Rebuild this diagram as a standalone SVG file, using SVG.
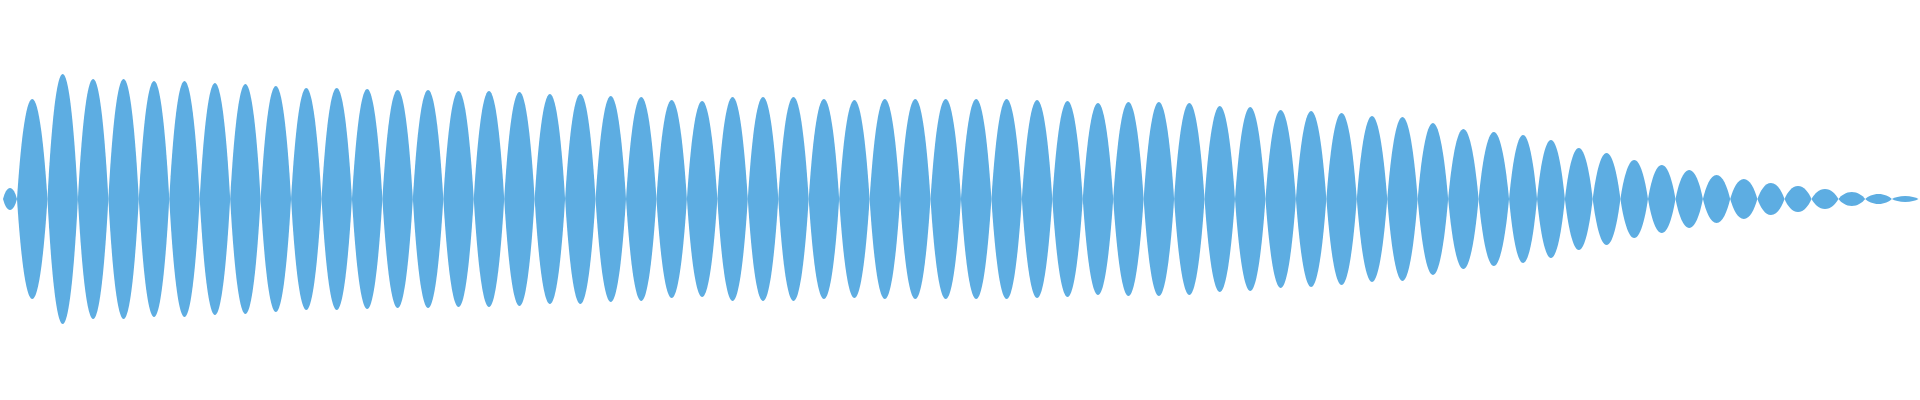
<svg xmlns="http://www.w3.org/2000/svg" width="1920" height="400" viewBox="0 0 1920 400">
<defs>
<style>.l{fill:#5dade2}</style>
<path id="lobe" d="M0,0 C0.11,-0.52 0.28,-1 0.5,-1 C0.72,-1 0.89,-0.52 1,0 C0.89,0.52 0.72,1 0.5,1 C0.28,1 0.11,0.52 0,0 Z"/>
</defs>
<rect width="1920" height="400" fill="#ffffff"/>
<g id="waveform" class="l">
<use href="#lobe" transform="translate(3,199) scale(14,11)"/>
<use href="#lobe" transform="translate(17,199) scale(30.45,100)"/>
<use href="#lobe" transform="translate(47.45,199) scale(30.45,125)"/>
<use href="#lobe" transform="translate(77.9,199) scale(30.45,120)"/>
<use href="#lobe" transform="translate(108.35,199) scale(30.45,120)"/>
<use href="#lobe" transform="translate(138.8,199) scale(30.45,118)"/>
<use href="#lobe" transform="translate(169.25,199) scale(30.45,118)"/>
<use href="#lobe" transform="translate(199.7,199) scale(30.45,116)"/>
<use href="#lobe" transform="translate(230.15,199) scale(30.45,115)"/>
<use href="#lobe" transform="translate(260.6,199) scale(30.45,113)"/>
<use href="#lobe" transform="translate(291.05,199) scale(30.45,111)"/>
<use href="#lobe" transform="translate(321.5,199) scale(30.45,111)"/>
<use href="#lobe" transform="translate(351.95,199) scale(30.45,110)"/>
<use href="#lobe" transform="translate(382.4,199) scale(30.45,109)"/>
<use href="#lobe" transform="translate(412.85,199) scale(30.45,109)"/>
<use href="#lobe" transform="translate(443.3,199) scale(30.45,108)"/>
<use href="#lobe" transform="translate(473.75,199) scale(30.45,108)"/>
<use href="#lobe" transform="translate(504.2,199) scale(30.45,107)"/>
<use href="#lobe" transform="translate(534.65,199) scale(30.45,105)"/>
<use href="#lobe" transform="translate(565.1,199) scale(30.45,105)"/>
<use href="#lobe" transform="translate(595.55,199) scale(30.45,103)"/>
<use href="#lobe" transform="translate(626,199) scale(30.45,102)"/>
<use href="#lobe" transform="translate(656.45,199) scale(30.45,99)"/>
<use href="#lobe" transform="translate(686.9,199) scale(30.45,98)"/>
<use href="#lobe" transform="translate(717.35,199) scale(30.45,102)"/>
<use href="#lobe" transform="translate(747.8,199) scale(30.45,102)"/>
<use href="#lobe" transform="translate(778.25,199) scale(30.45,102)"/>
<use href="#lobe" transform="translate(808.7,199) scale(30.45,100)"/>
<use href="#lobe" transform="translate(839.15,199) scale(30.45,99)"/>
<use href="#lobe" transform="translate(869.6,199) scale(30.45,100)"/>
<use href="#lobe" transform="translate(900.05,199) scale(30.45,100)"/>
<use href="#lobe" transform="translate(930.5,199) scale(30.45,100)"/>
<use href="#lobe" transform="translate(960.95,199) scale(30.45,100)"/>
<use href="#lobe" transform="translate(991.4,199) scale(30.45,100)"/>
<use href="#lobe" transform="translate(1021.85,199) scale(30.45,99)"/>
<use href="#lobe" transform="translate(1052.3,199) scale(30.45,98)"/>
<use href="#lobe" transform="translate(1082.75,199) scale(30.45,96)"/>
<use href="#lobe" transform="translate(1113.2,199) scale(30.45,97)"/>
<use href="#lobe" transform="translate(1143.65,199) scale(30.45,97)"/>
<use href="#lobe" transform="translate(1174.1,199) scale(30.45,96)"/>
<use href="#lobe" transform="translate(1204.55,199) scale(30.45,93)"/>
<use href="#lobe" transform="translate(1235,199) scale(30.45,92)"/>
<use href="#lobe" transform="translate(1265.45,199) scale(30.45,89)"/>
<use href="#lobe" transform="translate(1295.9,199) scale(30.45,88)"/>
<use href="#lobe" transform="translate(1326.35,199) scale(30.45,86)"/>
<use href="#lobe" transform="translate(1356.8,199) scale(30.45,83)"/>
<use href="#lobe" transform="translate(1387.25,199) scale(30.45,82)"/>
<use href="#lobe" transform="translate(1417.7,199) scale(30.45,76)"/>
<use href="#lobe" transform="translate(1448.15,199) scale(30.45,70)"/>
<use href="#lobe" transform="translate(1478.6,199) scale(30.45,67)"/>
<use href="#lobe" transform="translate(1509.05,199) scale(28,64)"/>
<use href="#lobe" transform="translate(1537,199) scale(27.9,59)"/>
<use href="#lobe" transform="translate(1564.9,199) scale(27.8,51)"/>
<use href="#lobe" transform="translate(1592.7,199) scale(27.7,46)"/>
<use href="#lobe" transform="translate(1620.4,199) scale(27.6,39)"/>
<use href="#lobe" transform="translate(1648,199) scale(27.5,34)"/>
<use href="#lobe" transform="translate(1675.5,199) scale(27.4,29)"/>
<use href="#lobe" transform="translate(1702.9,199) scale(27.3,24)"/>
<use href="#lobe" transform="translate(1730.2,199) scale(27.2,20)"/>
<use href="#lobe" transform="translate(1757.4,199) scale(27.1,16)"/>
<use href="#lobe" transform="translate(1784.5,199) scale(27,13)"/>
<use href="#lobe" transform="translate(1811.5,199) scale(26.9,10)"/>
<use href="#lobe" transform="translate(1838.4,199) scale(26.8,7)"/>
<use href="#lobe" transform="translate(1865.2,199) scale(26.7,5)"/>
<use href="#lobe" transform="translate(1891.9,199) scale(26.6,3)"/>
</g>
</svg>
